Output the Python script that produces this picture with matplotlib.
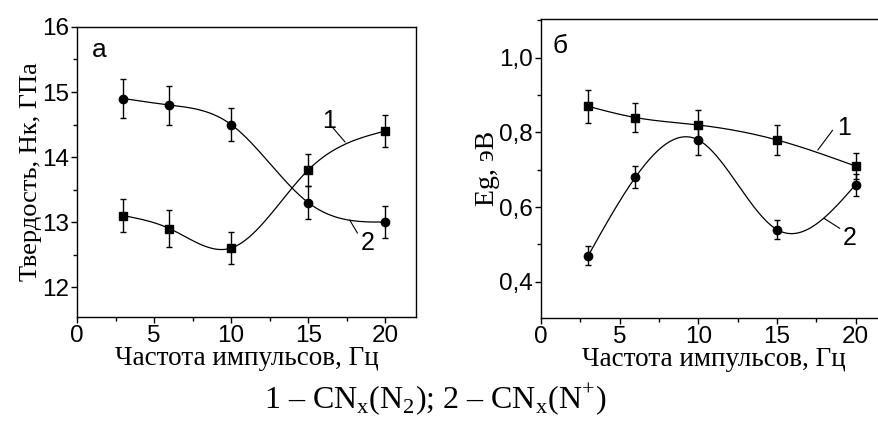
import numpy as np
import matplotlib
matplotlib.use('Agg')
import matplotlib.pyplot as plt
from matplotlib.ticker import MultipleLocator

plt.rcParams['font.family'] = ['Liberation Sans', 'DejaVu Sans']
plt.rcParams['mathtext.fontset'] = 'custom'
plt.rcParams['mathtext.rm'] = 'Liberation Serif'

# data
freq = [3, 6, 10, 15, 20]

# panel a: hardness, GPa
hard_1 = [13.1, 12.9, 12.6, 13.8, 14.4]
hard_1_err = [0.25, 0.28, 0.25, 0.25, 0.25]
hard_2 = [14.9, 14.8, 14.5, 13.3, 13.0]
hard_2_err = [0.3, 0.3, 0.25, 0.25, 0.25]

# panel b: Eg, eV
eg_1 = [0.87, 0.84, 0.82, 0.78, 0.71]
eg_1_err = [0.045, 0.04, 0.04, 0.04, 0.035]
eg_2 = [0.47, 0.68, 0.78, 0.54, 0.66]
eg_2_err = [0.025, 0.03, 0.04, 0.025, 0.03]


def spline(x, y, n=200):
    # natural cubic spline through the points
    x = np.asarray(x, float)
    y = np.asarray(y, float)
    k = len(x)
    h = np.diff(x)
    A = np.zeros((k, k))
    b = np.zeros(k)
    A[0, 0] = A[-1, -1] = 1.0
    for i in range(1, k-1):
        A[i, i-1] = h[i-1]
        A[i, i] = 2*(h[i-1] + h[i])
        A[i, i+1] = h[i]
        b[i] = 3*((y[i+1]-y[i])/h[i] - (y[i]-y[i-1])/h[i-1])
    c = np.linalg.solve(A, b)
    xs = np.linspace(x[0], x[-1], n)
    ys = np.empty_like(xs)
    for j, t in enumerate(xs):
        i = min(np.searchsorted(x, t, side='right') - 1, k-2)
        dx = t - x[i]
        bb = (y[i+1]-y[i])/h[i] - h[i]*(2*c[i] + c[i+1])/3
        d = (c[i+1] - c[i])/(3*h[i])
        ys[j] = y[i] + bb*dx + c[i]*dx**2 + d*dx**3
    return xs, ys


def draw(ax, y, err, marker):
    xs, ys = spline(freq, y)
    ax.plot(xs, ys, color='black', lw=0.9)
    ax.errorbar(freq, y, yerr=err, fmt=marker, color='black', ms=6,
                elinewidth=1.0, capsize=2.5, capthick=1.0)


def leader(ax, num, p0, p1, tpos):
    ax.annotate('', xy=p1, xytext=p0,
                arrowprops=dict(arrowstyle='-', color='black', lw=0.8,
                                shrinkA=0, shrinkB=0))
    ax.text(tpos[0], tpos[1], num, fontsize=18)


fig = plt.figure(figsize=(8.79, 4.23), dpi=100)
ax1 = fig.add_axes([0.0876, 0.2506, 0.3857, 0.6856])
ax2 = fig.add_axes([0.6155, 0.2482, 0.3936, 0.7069])

draw(ax1, hard_1, hard_1_err, 's')
draw(ax1, hard_2, hard_2_err, 'o')
draw(ax2, eg_1, eg_1_err, 's')
draw(ax2, eg_2, eg_2_err, 'o')

ax1.set_xlim(0, 22)
ax1.set_ylim(11.54, 16)
ax1.yaxis.set_major_locator(MultipleLocator(1))
ax1.yaxis.set_minor_locator(MultipleLocator(0.5))
ax2.set_xlim(0, 22)
ax2.set_ylim(0.303, 1.104)
ax2.set_yticks([0.4, 0.6, 0.8, 1.0])
ax2.set_yticklabels(['0,4', '0,6', '0,8', '1,0'])
ax2.yaxis.set_minor_locator(MultipleLocator(0.1))

for ax in (ax1, ax2):
    ax.xaxis.set_major_locator(MultipleLocator(5))
    ax.xaxis.set_minor_locator(MultipleLocator(2.5))
    ax.tick_params(which='major', direction='out', length=4, width=1,
                   labelsize=17.5, pad=2)
    ax.tick_params(which='minor', direction='out', length=3, width=1)
    for s in ax.spines.values():
        s.set_linewidth(1.0)
    ax.set_xlabel('Частота импульсов, Гц', family='Liberation Serif',
                  fontsize=19.5, labelpad=-1)

ax1.set_ylabel('Твердость, Нк, ГПа', family='Liberation Serif', fontsize=19,
               labelpad=0)
ax2.set_ylabel('Eg, эВ', family='Liberation Serif', fontsize=20, labelpad=-1)

ax1.text(0.97, 15.54, 'а', fontsize=19)
ax2.text(0.76, 1.013, 'б', fontsize=19)

# curve numbers with leader lines
leader(ax1, '1', (16.6, 14.45), (17.4, 14.23), (15.9, 14.45))
leader(ax1, '2', (17.7, 13.03), (18.2, 12.83), (18.4, 12.57))
leader(ax2, '1', (18.54, 0.806), (17.6, 0.753), (18.86, 0.793))
leader(ax2, '2', (19.0, 0.543), (18.0, 0.570), (19.2, 0.498))

fig.text(0.495, 0.035, r'1 – CN$_\mathregular{x}$(N$_\mathregular{2}$); '
         r'2 – CN$_\mathregular{x}$(N$^\mathregular{+}$)',
         family='Liberation Serif', fontsize=23, ha='center')

fig.savefig('out.png', dpi=100)
